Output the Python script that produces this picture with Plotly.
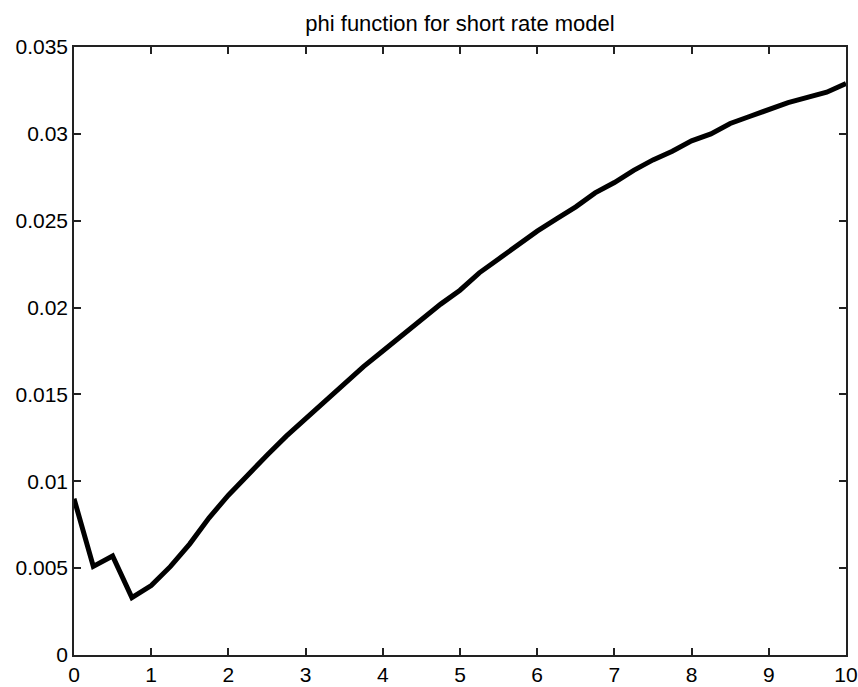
import plotly.graph_objects as go

# time grid (years) and phi values of the short rate model
t = [0.0, 0.25, 0.5, 0.75, 1.0, 1.25, 1.5, 1.75, 2.0, 2.25, 2.5, 2.75, 3.0,
     3.25, 3.5, 3.75, 4.0, 4.25, 4.5, 4.75, 5.0, 5.25, 5.5, 5.75, 6.0, 6.25,
     6.5, 6.75, 7.0, 7.25, 7.5, 7.75, 8.0, 8.25, 8.5, 8.75, 9.0, 9.25, 9.5,
     9.75, 10.0]
phi = [0.0090, 0.0051, 0.0057, 0.0033, 0.0040, 0.0051, 0.0064, 0.0079, 0.0092,
       0.0104, 0.0115, 0.0126, 0.0136, 0.0146, 0.0156, 0.0166, 0.0175, 0.0184,
       0.0193, 0.0202, 0.0210, 0.0220, 0.0228, 0.0236, 0.0244, 0.0251, 0.0258,
       0.0266, 0.0272, 0.0279, 0.0285, 0.0290, 0.0296, 0.0300, 0.0306, 0.0310,
       0.0314, 0.0318, 0.0321, 0.0324, 0.0329]

x_ticks = list(range(0, 11))
x_tick_labels = [str(v) for v in x_ticks]
y_ticks = [0, 0.005, 0.01, 0.015, 0.02, 0.025, 0.03, 0.035]
y_tick_labels = ["0", "0.005", "0.01", "0.015", "0.02", "0.025", "0.03", "0.035"]

FONT = "Arial, Liberation Sans, Helvetica, sans-serif"

fig = go.Figure()
fig.add_trace(go.Scatter(
    x=t, y=phi, mode="lines",
    line=dict(color="black", width=5),
    showlegend=False, hoverinfo="x+y",
))

axis_common = dict(
    showgrid=False, zeroline=False, automargin=False,
    showline=True, linecolor="#222222", linewidth=1.5,
    mirror="ticks", ticks="inside", ticklen=7, tickwidth=1.5, tickcolor="#222222",
    tickfont=dict(family=FONT, size=21, color="black"),
)

fig.update_xaxes(range=[0, 10], tickvals=x_ticks, ticktext=x_tick_labels,
                 **axis_common)
fig.update_yaxes(range=[0, 0.035], tickvals=y_ticks, ticktext=y_tick_labels,
                 **axis_common)

fig.update_layout(
    width=858, height=687,
    margin=dict(l=74, r=12, t=47, b=32),
    paper_bgcolor="white", plot_bgcolor="white",
    title=dict(text="phi function for short rate model",
               font=dict(family=FONT, size=22, color="black"),
               x=0.5, xref="paper", y=1 - 23 / 687, yref="container",
               xanchor="center", yanchor="middle"),
)

fig.write_html("out.html")
